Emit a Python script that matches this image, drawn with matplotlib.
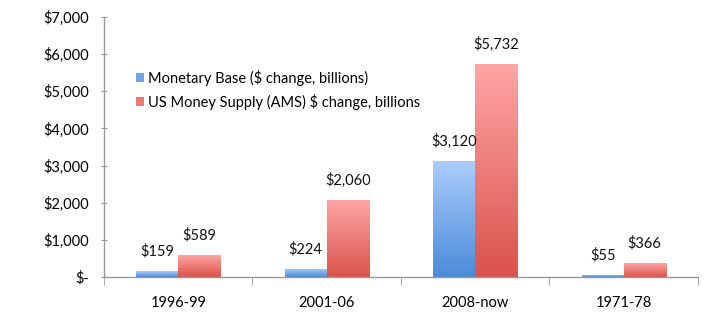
import matplotlib
matplotlib.use("Agg")
import matplotlib.pyplot as plt
import numpy as np
from matplotlib.colors import LinearSegmentedColormap
from matplotlib.ticker import FuncFormatter, FixedLocator

categories = ["1996-99", "2001-06", "2008-now", "1971-78"]
monetary_base = [159, 224, 3120, 55]
money_supply = [589, 2060, 5732, 366]
series_names = ["Monetary Base ($ change, billions)", "US Money Supply (AMS) $ change, billions"]

plt.rcParams['font.family'] = ['Lato', 'DejaVu Sans']

fig = plt.figure(figsize=(7.2, 3.25), dpi=100)
ax = fig.add_axes([0.1444, 0.1477, 0.825, 0.80])

x = np.arange(len(categories))
w = 0.283
blue_cmap = LinearSegmentedColormap.from_list("b", ["#4a8bd9", "#abcdfb"])
red_cmap = LinearSegmentedColormap.from_list("r", ["#d9534b", "#ffa5a5"])

bars_b = ax.bar(x - w/2, monetary_base, w, color="#6fa6ea", label=series_names[0], zorder=2)
bars_r = ax.bar(x + w/2, money_supply, w, color="#ee7a76", label=series_names[1], zorder=2)

grad = np.linspace(0, 1, 256).reshape(-1, 1)
for bars, cmap in ((bars_b, blue_cmap), (bars_r, red_cmap)):
    for b in bars:
        x0, y0 = b.get_x(), b.get_y()
        bw, bh = b.get_width(), b.get_height()
        im = ax.imshow(grad, cmap=cmap, origin="lower", aspect="auto",
                       extent=(x0, x0 + bw, y0, y0 + bh), zorder=2.5)
        im.set_clip_path(b)
        b.set_facecolor("none")

for bars, vals in ((bars_b, monetary_base), (bars_r, money_supply)):
    for b, v in zip(bars, vals):
        ax.annotate(f"${v:,}", (b.get_x() + b.get_width()/2, v), xytext=(0, 9),
                    textcoords="offset points", ha="center", va="bottom",
                    fontsize=10.5, color="#111111")

ax.set_xlim(-0.5, len(categories) - 0.5)
ax.set_ylim(0, 7000)
ax.set_yticks(np.arange(0, 7001, 1000))
ax.yaxis.set_major_formatter(FuncFormatter(lambda v, p: "$-" if v == 0 else f"${int(v):,}"))
ax.set_xticks(x)
ax.set_xticklabels(categories, fontsize=10.5)
ax.xaxis.set_minor_locator(FixedLocator(np.arange(-0.5, len(categories), 1)))
ax.tick_params(axis="x", which="major", length=0, pad=14)
ax.tick_params(axis="x", which="minor", length=6, direction="out", color="#999999")
ax.tick_params(axis="y", length=5, direction="inout", color="#999999", labelsize=10.5, pad=8)

for s in ["top", "right"]:
    ax.spines[s].set_visible(False)
for s in ["left", "bottom"]:
    ax.spines[s].set_color("#999999")
    ax.spines[s].set_linewidth(1.0)

leg = ax.legend(loc="upper left", bbox_to_anchor=(0.044, 0.82), frameon=False,
                fontsize=10.5, handlelength=0.55, handleheight=0.55, handletextpad=0.3,
                labelspacing=0.55, borderaxespad=0)
leg.legend_handles[0].set_facecolor("#6fa6ea")
leg.legend_handles[1].set_facecolor("#ee7a76")

fig.savefig("out.png", dpi=100)
